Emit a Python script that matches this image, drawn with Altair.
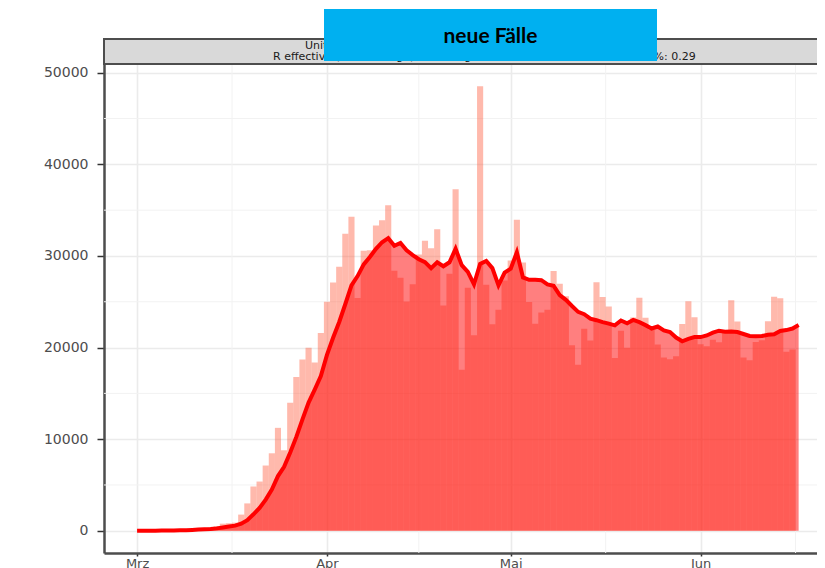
import altair as alt
import pandas as pd

# daily new cases, day 0 = 1 March 2020
cases = [3, 20, 14, 22, 34, 74, 105, 95, 121, 200,
         271, 287, 351, 511, 777, 823, 887, 1766, 2988, 4835,
         5374, 7123, 8459, 11236, 8789, 13963, 16797, 18695, 19979, 18360,
         21595, 24998, 27103, 28819, 32425, 34272, 25398, 30561, 30613, 33323,
         33901, 35527, 28391, 27620, 25023, 26922, 30148, 31667, 30833, 32922,
         24601, 28065, 37289, 17588, 26543, 21352, 48529, 26857, 22541, 24132,
         27326, 29517, 33955, 29288, 24972, 22593, 23841, 24128, 28369, 26957,
         25612, 20258, 18117, 22048, 20782, 27143, 25508, 24487, 18873, 21841,
         19970, 23285, 25434, 23257, 21931, 20342, 18910, 18721, 19064, 22577,
         25069, 23297, 20350, 20152, 20852, 20578, 21882, 25178, 22838, 18905,
         18603, 20601, 20801, 22883, 25540, 25396, 19543, 19800]

# smoothed curve (red line / area)
smooth = [3, 12, 12, 15, 19, 28,
          39, 52, 66, 93, 129, 165, 204, 262, 360, 460,
          558, 772, 1158, 1798, 2493, 3399, 4490, 5969, 6972, 8540,
          10249, 12152, 13988, 15403, 16883,
          19198, 21075, 22793, 24754, 26796, 27801, 29082, 29884, 30773, 31499,
          31942, 31102, 31419, 30628, 30101, 29647, 29328, 28658, 29305, 28874,
          29308, 30789, 28995, 28263, 26909, 29138, 29460, 28671, 26792, 28183,
          28608, 30408, 27659, 27390, 27398, 27356, 26899, 26735, 25735, 25210,
          24537, 23897, 23641, 23163, 22988, 22781, 22620, 22423, 22955, 22658,
          23015, 22771, 22450, 22084, 22294, 21876, 21697, 21094, 20686, 20945,
          21140,
          21141, 21319, 21623, 21839, 21740, 21756, 21690, 21484, 21262, 21226,
          21258, 21401, 21453, 21818, 21910, 22081, 22450]

y_ticks = [0, 10000, 20000, 30000, 40000, 50000]
y_minor = [5000, 15000, 25000, 35000, 45000]
month_days = [0, 31, 61, 92]
month_labels = ["Mrz", "Apr", "Mai", "Jun"]
x_minor = [15.5, 46, 76.5, 107.5]
strip_line1 = "United_States_of_America"
strip_line2 = "R effective (letzte 7 Tage): 1.01, tägliche Wachstumsrate der Fälle in %: 0.29"
box_label = "neue Fälle"

W, H = 713, 489
x_dom = [-5.4, 111.0]
y_dom = [-2426, 50955]

bars_df = pd.DataFrame({"day": list(range(len(cases))), "cases": cases})
smooth_df = pd.DataFrame({"day": list(range(len(smooth))), "smooth": smooth})
deco = pd.DataFrame({"k": [0]})

xs = alt.Scale(domain=x_dom, nice=False, zero=False)
ys = alt.Scale(domain=y_dom, nice=False, zero=False)

label_expr = "{}[indexof({}, datum.value)]".format(
    "[" + ",".join("'%s'" % m for m in month_labels) + "]",
    "[" + ",".join(str(d) for d in month_days) + "]")

x_axis = alt.Axis(values=month_days, labelExpr=label_expr, title=None,
                  grid=True, gridColor="#EBEBEB", gridWidth=1.6,
                  domainColor="#4D4D4D", domainWidth=2.5,
                  tickColor="#333333", tickSize=3, tickWidth=1.5,
                  labelPadding=1, labelFont="DejaVu Sans", labelFontSize=13,
                  labelColor="#4D4D4D", labelBaseline="top")
y_axis = alt.Axis(values=y_ticks, format="d", title=None,
                  grid=True, gridColor="#EBEBEB", gridWidth=1.6,
                  domainColor="#4D4D4D", domainWidth=2.5,
                  tickColor="#333333", tickSize=7, tickWidth=1.5,
                  labelPadding=9, labelFont="DejaVu Sans", labelFontSize=14,
                  labelColor="#4D4D4D")

xminor = alt.Chart(pd.DataFrame({"m": x_minor})).mark_rule(
    color="#F2F2F2", strokeWidth=1).encode(x=alt.X("m:Q", scale=xs, axis=x_axis))
yminor = alt.Chart(pd.DataFrame({"m": y_minor})).mark_rule(
    color="#F2F2F2", strokeWidth=1).encode(y=alt.Y("m:Q", scale=ys, axis=y_axis))

bars = alt.Chart(bars_df).transform_calculate(
    x0="datum.day - 0.5", x1="datum.day + 0.5"
).mark_rect(color="#FF6347", opacity=0.45).encode(
    x=alt.X("x0:Q", scale=xs, axis=x_axis), x2="x1:Q",
    y=alt.Y("cases:Q", scale=ys, axis=y_axis), y2=alt.datum(0))

area = alt.Chart(smooth_df).mark_area(color="#FF0000", opacity=0.5).encode(
    x=alt.X("day:Q", scale=xs, axis=x_axis),
    y=alt.Y("smooth:Q", scale=ys, axis=y_axis), y2=alt.datum(0))

line = alt.Chart(smooth_df).mark_line(color="#FF0000", strokeWidth=4).encode(
    x=alt.X("day:Q", scale=xs, axis=x_axis),
    y=alt.Y("smooth:Q", scale=ys, axis=y_axis))

strip = alt.Chart(deco).mark_rect(fill="#D9D9D9", stroke="#4D4D4D", strokeWidth=2).encode(
    x=alt.value(0), x2=alt.value(W + 10), y=alt.value(-25), y2=alt.value(0))
s1 = alt.Chart(deco).mark_text(text=strip_line1, align="left", baseline="middle",
                               font="DejaVu Sans", fontSize=11, color="#1A1A1A").encode(
    x=alt.value(201), y=alt.value(-18.5))
s2 = alt.Chart(deco).mark_text(text=strip_line2, align="left", baseline="middle",
                               font="DejaVu Sans", fontSize=11, color="#1A1A1A").encode(
    x=alt.value(169), y=alt.value(-7))
box = alt.Chart(deco).mark_rect(fill="#00B0F0").encode(
    x=alt.value(220), x2=alt.value(553), y=alt.value(-55), y2=alt.value(-3))
box_t = alt.Chart(deco).mark_text(text=box_label, align="center", baseline="middle",
                                  font="Lato", fontWeight="bold", fontSize=21,
                                  color="#000000").encode(
    x=alt.value(386.5), y=alt.value(-27.5))

chart = alt.layer(xminor, yminor, bars, area, line, strip, s1, s2, box, box_t).properties(
    width=W, height=H,
    autosize=alt.AutoSizeParams(type="none"),
    padding={"left": 96, "top": 56, "right": 0, "bottom": 16},
).configure_view(stroke=None).configure(background="white")

chart.save("out.html", embed_options={"renderer": "svg", "actions": False})
